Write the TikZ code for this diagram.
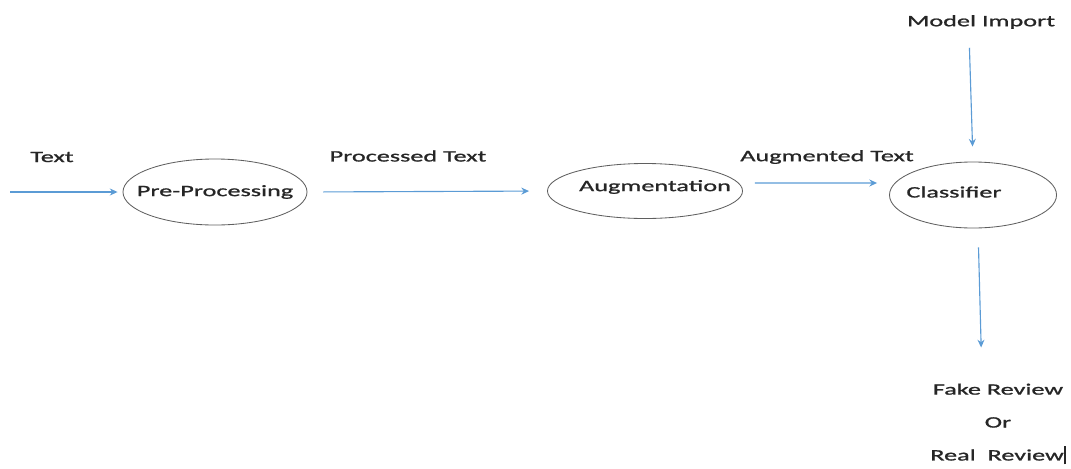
\documentclass[tikz,border=0pt]{standalone}
\usepackage{fontspec}
\setmainfont[FakeStretch=1.65, FakeBold=1.2]{Carlito}
\usetikzlibrary{arrows.meta,shapes.geometric}
\definecolor{flowblue}{RGB}{91,155,213}
\definecolor{rimgray}{RGB}{95,95,95}

\begin{document}
\begin{tikzpicture}[x=0.025cm, y=-0.025cm,
  every node/.style={font=\fontsize{11.3}{23.4}\selectfont, text=black!85},
  stage/.style={ellipse, draw=rimgray, line width=0.6pt},
  flow/.style={draw=flowblue, line width=0.8pt, -{Stealth[length=5.5pt,width=5pt]}}]
  \useasboundingbox (0,0) rectangle (1071,468);

  % Stages
  \node[stage, minimum width=4.6cm, minimum height=1.65cm,
        label={center:Pre-Processing}] (pre) at (215,192) {};
  \node[stage, minimum width=4.875cm, minimum height=1.375cm,
        label={[xshift=0.25cm, yshift=0.1cm]center:Augmentation}] (aug) at (645,191) {};
  \node[stage, minimum width=4.175cm, minimum height=1.65cm,
        label={[xshift=-0.475cm, yshift=0.075cm]center:Classifier}] (cls) at (973,195) {};

  % Labels
  \node (txtin) at (52,157) {Text};
  \node (ptext) at (408,156) {Processed Text};
  \node (atext) at (827,157) {Augmented Text};
  \node (model) at (981,22) {Model Import};
  \node[align=center] (result) at (998,424)
    {Fake Review\\Or\\Real~~Review\rule[-0.25em]{1.4pt}{1.15em}};

  % Flow
  \coordinate (src) at (10,192);
  \draw[flow, shorten >=0.125cm] (src) -- (pre.west);
  \draw[flow, shorten <=0.4cm, shorten >=0.45cm] (pre.east) -- (aug.west);
  \draw[flow, shorten <=0.3cm, shorten >=0.3cm] ([yshift=0.2cm]aug.east) -- ([yshift=0.3cm]cls.west);
  \draw[flow, shorten <=0.35cm, shorten >=0.375cm] ([xshift=-0.3cm]model.south) -- (cls.north);
  \draw[flow, shorten <=0.475cm, shorten >=0.78cm] ([xshift=0.125cm]cls.south) -- ([xshift=-0.4cm]result.north);
\end{tikzpicture}
\end{document}
